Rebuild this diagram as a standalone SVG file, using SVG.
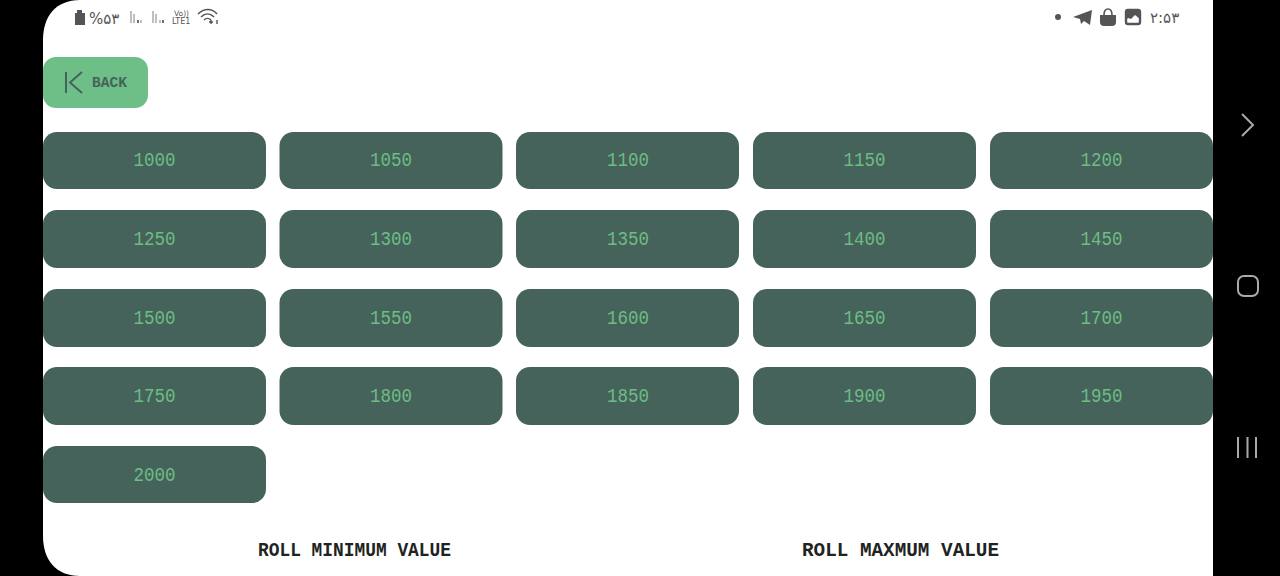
<svg xmlns="http://www.w3.org/2000/svg" width="1280" height="576" viewBox="0 0 1280 576">
<style>
.btn{fill:#45635b}
.num{font-family:"Liberation Mono","DejaVu Sans Mono",monospace;font-size:20px;fill:#6dbd84;text-anchor:middle}
.cap{font-family:"Liberation Mono","DejaVu Sans Mono",monospace;font-size:20px;font-weight:bold;fill:#1d2422}
.st{font-family:"DejaVu Sans","Noto Sans",sans-serif;fill:#555}
.nav{fill:none;stroke:#a9a9a9;stroke-width:2}
</style>
<rect width="1280" height="576" fill="#000"/>
<path d="M80 0H1213V576H80C56 576 43 560 43 536V40C43 16 56 0 80 0Z" fill="#fff"/>
<g id="status-left">
<path d="M75 13H77V10H82V13H85V25H75Z" fill="#555"/>
<text class="st" x="89" y="24" font-size="15">%۵۳</text>
<path d="M131 11V23M134 14V23M138 20V23M141 20V23M153 11V23M156 14V23M160 20V23M163 20V23" stroke="#aaa" stroke-width="1.5" fill="none"/>
<path d="M138 20V23M163 20V23" stroke="#555" stroke-width="1.5"/>
<text class="st" x="174" y="16" font-size="7.5">Vo))</text>
<text class="st" x="172" y="24" font-size="8">LTE1</text>
<path d="M198 14C204 8 212 8 217 14M201 17C205 13 210 13 214 17M204 20C206 18 209 18 211 20" fill="none" stroke="#555" stroke-width="1.6"/>
<path d="M211 20V24M213 22H209M217 24V20" stroke="#555" stroke-width="1.4" fill="none"/>
</g>
<g id="status-right">
<circle cx="1058" cy="17" r="3" fill="#555"/>
<path d="M1073 17L1092 10L1090 25L1084 21L1081 24L1080 19Z" fill="#555"/>
<path d="M1100 15H1116V22Q1116 26 1112 26H1104Q1100 26 1100 22Z" fill="#555"/>
<path d="M1104 15C1104 7 1112 7 1112 15" fill="none" stroke="#555" stroke-width="1.6"/>
<rect x="1126" y="10" width="14" height="14" rx="2" fill="#fff" stroke="#555" stroke-width="2.4"/>
<path d="M1126 10H1140V19L1135 15L1131 19L1128 18L1126 20Z" fill="#555"/>
<text class="st" x="1150" y="23" font-size="15">۲:۵۳</text>
</g>
<g id="nav-bar">
<path class="nav" d="M1242 114L1253 125L1242 136"/>
<rect class="nav" x="1238" y="276" width="20" height="20" rx="6"/>
<path class="nav" d="M1238 437V458M1247.500 437V458M1256 437V458"/>
</g>
<g id="back">
<rect x="43" y="57" width="105" height="51" rx="13" fill="#6dbe87"/>
<path d="M66 72V93M82 72L70 82.500L82 93" fill="none" stroke="#45635b" stroke-width="2"/>
<text x="92" y="87" font-family="Liberation Mono,monospace" font-size="14" font-weight="bold" fill="#45635b" textLength="35" lengthAdjust="spacingAndGlyphs">BACK</text>
</g>
<g id="btn-1000"><rect class="btn" x="43" y="132" width="223" height="57" rx="14"/><text class="num" x="154.500" y="166" textLength="42" lengthAdjust="spacingAndGlyphs">1000</text></g>
<g id="btn-1050"><rect class="btn" x="279.500" y="132" width="223" height="57" rx="14"/><text class="num" x="391" y="166" textLength="42" lengthAdjust="spacingAndGlyphs">1050</text></g>
<g id="btn-1100"><rect class="btn" x="516" y="132" width="223" height="57" rx="14"/><text class="num" x="628" y="166" textLength="42" lengthAdjust="spacingAndGlyphs">1100</text></g>
<g id="btn-1150"><rect class="btn" x="753" y="132" width="223" height="57" rx="14"/><text class="num" x="864.500" y="166" textLength="42" lengthAdjust="spacingAndGlyphs">1150</text></g>
<g id="btn-1200"><rect class="btn" x="990" y="132" width="223" height="57" rx="14"/><text class="num" x="1101.500" y="166" textLength="42" lengthAdjust="spacingAndGlyphs">1200</text></g>
<g id="btn-1250"><rect class="btn" x="43" y="210" width="223" height="58" rx="14"/><text class="num" x="154.500" y="245" textLength="42" lengthAdjust="spacingAndGlyphs">1250</text></g>
<g id="btn-1300"><rect class="btn" x="279.500" y="210" width="223" height="58" rx="14"/><text class="num" x="391" y="245" textLength="42" lengthAdjust="spacingAndGlyphs">1300</text></g>
<g id="btn-1350"><rect class="btn" x="516" y="210" width="223" height="58" rx="14"/><text class="num" x="628" y="245" textLength="42" lengthAdjust="spacingAndGlyphs">1350</text></g>
<g id="btn-1400"><rect class="btn" x="753" y="210" width="223" height="58" rx="14"/><text class="num" x="864.500" y="245" textLength="42" lengthAdjust="spacingAndGlyphs">1400</text></g>
<g id="btn-1450"><rect class="btn" x="990" y="210" width="223" height="58" rx="14"/><text class="num" x="1101.500" y="245" textLength="42" lengthAdjust="spacingAndGlyphs">1450</text></g>
<g id="btn-1500"><rect class="btn" x="43" y="289" width="223" height="58" rx="14"/><text class="num" x="154.500" y="324" textLength="42" lengthAdjust="spacingAndGlyphs">1500</text></g>
<g id="btn-1550"><rect class="btn" x="279.500" y="289" width="223" height="58" rx="14"/><text class="num" x="391" y="324" textLength="42" lengthAdjust="spacingAndGlyphs">1550</text></g>
<g id="btn-1600"><rect class="btn" x="516" y="289" width="223" height="58" rx="14"/><text class="num" x="628" y="324" textLength="42" lengthAdjust="spacingAndGlyphs">1600</text></g>
<g id="btn-1650"><rect class="btn" x="753" y="289" width="223" height="58" rx="14"/><text class="num" x="864.500" y="324" textLength="42" lengthAdjust="spacingAndGlyphs">1650</text></g>
<g id="btn-1700"><rect class="btn" x="990" y="289" width="223" height="58" rx="14"/><text class="num" x="1101.500" y="324" textLength="42" lengthAdjust="spacingAndGlyphs">1700</text></g>
<g id="btn-1750"><rect class="btn" x="43" y="367" width="223" height="58" rx="14"/><text class="num" x="154.500" y="402" textLength="42" lengthAdjust="spacingAndGlyphs">1750</text></g>
<g id="btn-1800"><rect class="btn" x="279.500" y="367" width="223" height="58" rx="14"/><text class="num" x="391" y="402" textLength="42" lengthAdjust="spacingAndGlyphs">1800</text></g>
<g id="btn-1850"><rect class="btn" x="516" y="367" width="223" height="58" rx="14"/><text class="num" x="628" y="402" textLength="42" lengthAdjust="spacingAndGlyphs">1850</text></g>
<g id="btn-1900"><rect class="btn" x="753" y="367" width="223" height="58" rx="14"/><text class="num" x="864.500" y="402" textLength="42" lengthAdjust="spacingAndGlyphs">1900</text></g>
<g id="btn-1950"><rect class="btn" x="990" y="367" width="223" height="58" rx="14"/><text class="num" x="1101.500" y="402" textLength="42" lengthAdjust="spacingAndGlyphs">1950</text></g>
<g id="btn-2000"><rect class="btn" x="43" y="446" width="223" height="57" rx="14"/><text class="num" x="154.500" y="481" textLength="42" lengthAdjust="spacingAndGlyphs">2000</text></g>
<g id="labels">
<text class="cap" x="258" y="556" textLength="193" lengthAdjust="spacingAndGlyphs">ROLL MINIMUM VALUE</text>
<text class="cap" x="802" y="556" textLength="197" lengthAdjust="spacingAndGlyphs">ROLL MAXMUM VALUE</text>
</g>
</svg>
